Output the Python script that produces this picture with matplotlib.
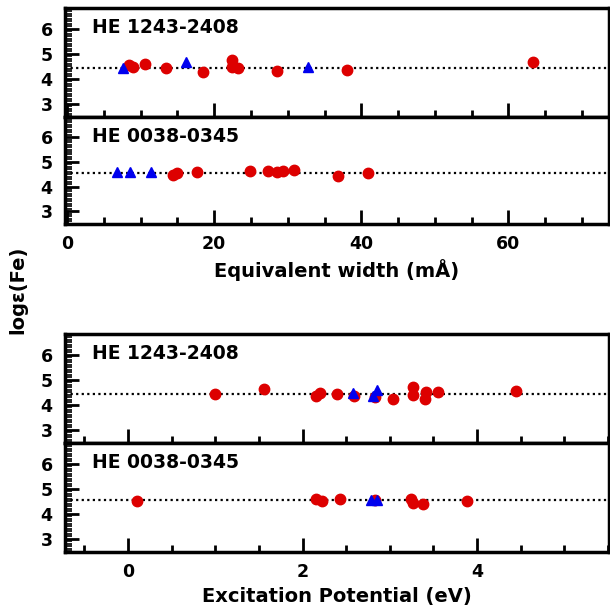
import numpy as np
import matplotlib
matplotlib.use('Agg')
import matplotlib.pyplot as plt
from matplotlib.ticker import MultipleLocator

plt.rcParams['font.family'] = 'DejaVu Sans'
plt.rcParams['font.weight'] = 'bold'

# equivalent width panels (mA)
ew_1243_fe1 = [8.4, 9.0, 10.6, 13.5, 18.5, 22.4, 22.35, 23.25, 28.6, 38.1, 63.3]
ab_1243_fe1 = [4.56, 4.49, 4.60, 4.45, 4.28, 4.75, 4.49, 4.43, 4.31, 4.36, 4.67]
ew_1243_fe2 = [7.6, 16.2, 32.8]
ab_1243_fe2 = [4.43, 4.65, 4.47]

ew_0038_fe1 = [14.35, 15.0, 17.65, 24.8, 27.3, 28.6, 29.3, 30.8, 36.9, 40.9]
ab_0038_fe1 = [4.47, 4.54, 4.58, 4.63, 4.64, 4.58, 4.63, 4.65, 4.43, 4.53]
ew_0038_fe2 = [6.8, 8.5, 11.4]
ab_0038_fe2 = [4.58, 4.58, 4.60]

# excitation potential panels (eV)
ep_1243_fe1 = [1.00, 1.56, 2.16, 2.20, 2.40, 2.59, 2.83, 3.04, 3.26, 3.26, 3.41, 3.40, 3.55, 4.45]
epab_1243_fe1 = [4.44, 4.62, 4.37, 4.46, 4.44, 4.34, 4.30, 4.25, 4.70, 4.38, 4.53, 4.22, 4.50, 4.54]
ep_1243_fe2 = [2.58, 2.81, 2.85]
epab_1243_fe2 = [4.46, 4.37, 4.59]

ep_0038_fe1 = [0.11, 2.16, 2.22, 2.43, 2.83, 3.24, 3.26, 3.38, 3.88]
epab_0038_fe1 = [4.50, 4.59, 4.50, 4.61, 4.55, 4.59, 4.42, 4.38, 4.53]
ep_0038_fe2 = [2.79, 2.85]
epab_0038_fe2 = [4.55, 4.55]

mean_1243 = 4.45
mean_0038 = 4.56

RED = '#dd0000'
BLUE = '#0000ee'

fig = plt.figure(figsize=(6.10, 6.14), dpi=100)
L, W = 65 / 610, 544 / 610
def box(top, bot):
    return [L, 1 - bot / 614, W, (bot - top) / 614]

ax1 = fig.add_axes(box(8, 117))
ax2 = fig.add_axes(box(117, 224))
ax3 = fig.add_axes(box(334, 443))
ax4 = fig.add_axes(box(443, 552))

panels = [
    (ax1, 'HE 1243-2408', ew_1243_fe1, ab_1243_fe1, ew_1243_fe2, ab_1243_fe2, mean_1243, 'ew'),
    (ax2, 'HE 0038-0345', ew_0038_fe1, ab_0038_fe1, ew_0038_fe2, ab_0038_fe2, mean_0038, 'ew'),
    (ax3, 'HE 1243-2408', ep_1243_fe1, epab_1243_fe1, ep_1243_fe2, epab_1243_fe2, mean_1243, 'ep'),
    (ax4, 'HE 0038-0345', ep_0038_fe1, epab_0038_fe1, ep_0038_fe2, epab_0038_fe2, mean_0038, 'ep'),
]

for ax, name, x1, y1, x2, y2, m, kind in panels:
    ax.axhline(m, color='black', ls=(0, (1, 1.5)), lw=1.6, zorder=1)
    ax.plot(x1, y1, 'o', color=RED, ms=7.5, mec=RED, zorder=3)
    ax.plot(x2, y2, '^', color=BLUE, ms=7, mec=BLUE, zorder=4)
    ax.set_ylim(2.48, 6.82)
    ax.set_yticks([3, 4, 5, 6])
    ax.yaxis.set_minor_locator(MultipleLocator(0.1))
    if kind == 'ew':
        ax.set_xlim(-0.3, 73.7)
        ax.xaxis.set_major_locator(MultipleLocator(20))
        ax.xaxis.set_minor_locator(MultipleLocator(5))
    else:
        ax.set_xlim(-0.72, 5.51)
        ax.xaxis.set_major_locator(MultipleLocator(2))
        ax.xaxis.set_minor_locator(MultipleLocator(0.5))
    ax.tick_params(which='both', direction='in', top=False, right=False,
                   labelsize=12.5)
    ax.tick_params(which='major', length=10, width=2)
    ax.tick_params(which='minor', length=5, width=1.2)
    ax.tick_params(axis='x', which='minor', width=2)
    ax.tick_params(axis='x', pad=8)
    ax.tick_params(axis='y', pad=9)
    for s in ax.spines.values():
        s.set_linewidth(2.5)
    ax.text(0.05, 0.82, name, transform=ax.transAxes, fontsize=13.5,
            fontweight='bold', va='center')
    for lab in ax.get_yticklabels() + ax.get_xticklabels():
        lab.set_fontweight('bold')

ax1.tick_params(labelbottom=False)
ax3.tick_params(labelbottom=False)
ax2.set_xlabel('Equivalent width (mÅ)', fontsize=14, fontweight='bold', labelpad=4)
ax4.set_xlabel('Excitation Potential (eV)', fontsize=14, fontweight='bold', labelpad=4)

fig.text(18 / 610, 1 - 290 / 614, 'log\u03b5(Fe)', rotation=90, fontsize=14,
         fontweight='bold', ha='center', va='center')

fig.savefig('out.png', dpi=100)
